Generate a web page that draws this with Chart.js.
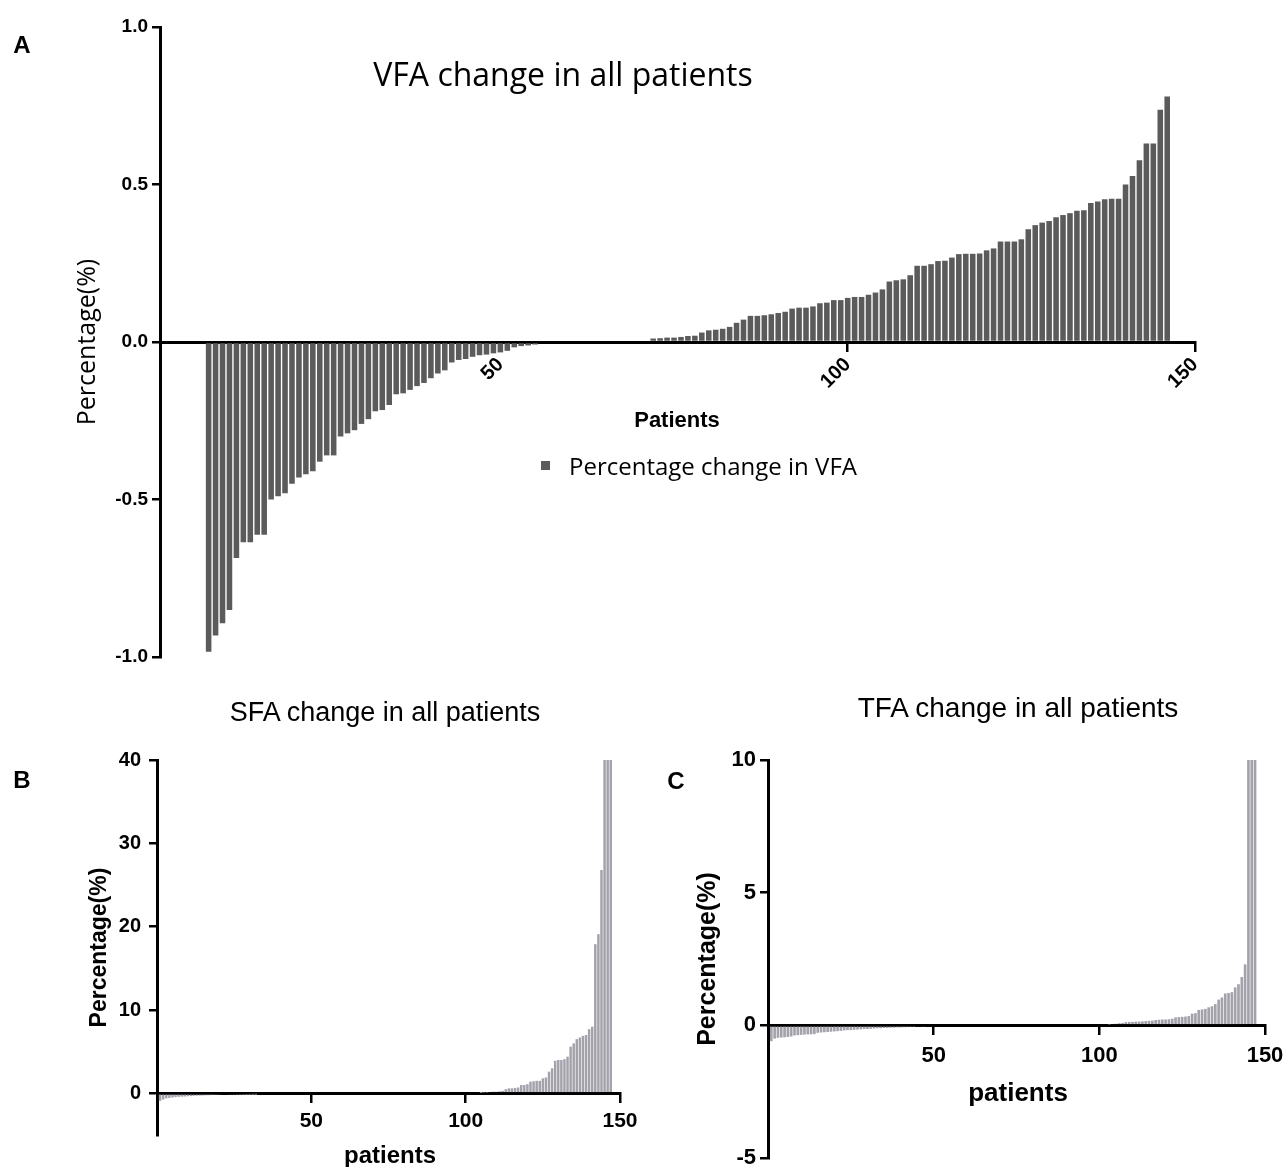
<!DOCTYPE html>
<html>
<head>
<meta charset="utf-8">
<title>VFA / SFA / TFA change in all patients</title>
<script src="https://cdn.jsdelivr.net/npm/chart.js@4.4.1/dist/chart.umd.min.js"></script>
<style>
    body { margin: 0; background: #fff; }
    #figure { position: relative; width: 1286px; height: 1167px; overflow: hidden; background: #fff; }
    canvas { position: absolute; }
    .txt { position: absolute; white-space: nowrap; color: #000; transform: translate(-50%, -50%); line-height: 1; }
    .arial { font-family: 'Liberation Sans', Arial, sans-serif; }
    .myriad { font-family: 'Open Sans', 'Noto Sans', sans-serif; }
    .bold { font-weight: bold; }
    .legend { position: absolute; left: 541px; top: 449px; display: flex; align-items: center; }
    .legend .box { width: 9px; height: 9px; background: #5b5b5b; margin-right: 19px; }
</style>
</head>
<body>
<div id="figure">
    <canvas id="vfaChart" width="1286" height="700" style="left:0;top:0"></canvas>
    <canvas id="sfaChart" width="650" height="467" style="left:0;top:700px"></canvas>
    <canvas id="tfaChart" width="636" height="467" style="left:650px;top:700px"></canvas>

    <div class="txt arial bold" style="left:22px;top:45px;font-size:24px">A</div>
    <div class="txt myriad" style="left:563px;top:74px;font-size:32px">VFA change in all patients</div>
    <div class="txt arial bold" style="left:677px;top:420px;font-size:22px">Patients</div>
    <div class="legend myriad" style="font-size:24px"><span class="box"></span><span>Percentage change in VFA</span></div>

    <div class="txt arial" style="left:385px;top:712px;font-size:27px">SFA change in all patients</div>
    <div class="txt arial bold" style="left:22px;top:780px;font-size:24px">B</div>
    <div class="txt arial bold" style="left:390px;top:1155px;font-size:24px">patients</div>

    <div class="txt arial" style="left:1018px;top:708px;font-size:28px">TFA change in all patients</div>
    <div class="txt arial bold" style="left:676px;top:781px;font-size:24px">C</div>
    <div class="txt arial bold" style="left:1018px;top:1092px;font-size:26px">patients</div>
</div>

<script>
// --- Data (patients sorted by change) ---
const patientTicks = [50, 100, 150];

// VFA: decreases start at patient 8, increases at patient 72
const vfaDecreaseFrom = 8;
const vfaDecrease = [
    -0.983, -0.932, -0.893, -0.851, -0.686, -0.636, -0.636, -0.612, -0.612, -0.50,
    -0.49, -0.48, -0.45, -0.43, -0.42, -0.41, -0.38, -0.36, -0.36, -0.30,
    -0.29, -0.28, -0.26, -0.245, -0.22, -0.216, -0.20, -0.166, -0.163, -0.152,
    -0.14, -0.13, -0.115, -0.10, -0.09, -0.065, -0.057, -0.054, -0.047, -0.042,
    -0.04, -0.036, -0.033, -0.028, -0.017, -0.013, -0.011, -0.008
];
const vfaIncreaseFrom = 72;
const vfaIncrease = [
    0.011, 0.012, 0.014, 0.014, 0.016, 0.019, 0.02, 0.03, 0.037, 0.039,
    0.042, 0.048, 0.061, 0.071, 0.083, 0.083, 0.085, 0.088, 0.092, 0.096,
    0.106, 0.109, 0.109, 0.113, 0.123, 0.125, 0.133, 0.133, 0.14, 0.143,
    0.143, 0.15, 0.157, 0.167, 0.192, 0.196, 0.199, 0.212, 0.242, 0.242,
    0.247, 0.257, 0.258, 0.268, 0.279, 0.28, 0.28, 0.281, 0.291, 0.297,
    0.319, 0.319, 0.319, 0.326, 0.358, 0.371, 0.379, 0.384, 0.396, 0.403,
    0.409, 0.417, 0.418, 0.441, 0.446, 0.453, 0.455, 0.455, 0.50, 0.527,
    0.577, 0.63, 0.63, 0.737, 0.779
];
const vfaTicks = [-1, -0.5, 0, 0.5, 1];

// SFA
const sfaDecreaseFrom = 1;
const sfaDecrease = [
    -0.9, -0.75, -0.6, -0.55, -0.5, -0.45, -0.42, -0.4, -0.38, -0.35,
    -0.33, -0.3, -0.28, -0.27, -0.25, -0.23, -0.22, -0.2, -0.19, -0.18,
    -0.16, -0.15, -0.14, -0.13, -0.12, -0.11, -0.1, -0.09, -0.08, -0.07,
    -0.06, -0.05
];
const sfaIncreaseFrom = 105;
const sfaIncrease = [
    0.05, 0.1, 0.1, 0.15, 0.2, 0.2, 0.25, 0.3,
    0.5, 0.6, 0.6, 0.65, 0.7,
    1.0, 1.0, 1.1,
    1.4, 1.45, 1.5, 1.5,
    1.8, 1.9,
    2.6, 3.0,
    3.9, 4.0, 4.0, 4.1, 4.4,
    5.6, 6.0, 6.5, 6.7, 6.9, 7.0, 7.7, 8.0,
    17.9, 19.1, 26.8, 45, 50, 55
];
const sfaTicks = [0, 10, 20, 30, 40];

// TFA
const tfaDecreaseFrom = 1;
const tfaDecrease = [
    -0.6, -0.5, -0.47, -0.46, -0.45, -0.44, -0.42, -0.38, -0.37, -0.36,
    -0.35, -0.34, -0.34, -0.33, -0.28, -0.27, -0.26, -0.25, -0.24, -0.23,
    -0.22, -0.21, -0.19, -0.18, -0.18, -0.17, -0.16, -0.15, -0.14, -0.14,
    -0.13, -0.12, -0.11, -0.11, -0.1, -0.1, -0.09, -0.09, -0.08, -0.08,
    -0.07, -0.07, -0.06, -0.06, -0.05, -0.05, -0.04
];
const tfaIncreaseFrom = 103;
const tfaIncrease = [
    0.03, 0.05, 0.06, 0.08, 0.09, 0.12, 0.13, 0.13, 0.14, 0.14,
    0.15, 0.16, 0.17, 0.18, 0.2, 0.21, 0.22, 0.22, 0.23, 0.25,
    0.3, 0.31, 0.32, 0.33, 0.35, 0.44, 0.46, 0.58, 0.6, 0.62,
    0.68, 0.72, 0.8, 0.97, 1.05, 1.2, 1.22, 1.25, 1.43, 1.55,
    1.82, 2.3, 12, 12, 13
];
const tfaTicks = [-5, 0, 5, 10];

// --- Helpers ---
Chart.defaults.font.family = "'Liberation Sans', Arial, sans-serif";
Chart.defaults.color = '#000';
Chart.defaults.animation = false;

const toPoints = (values, firstPatient) => values.map((v, i) => ({ x: firstPatient + i, y: v }));

const setTicks = (list) => (scale) => { scale.ticks = list.map(v => ({ value: v })); };

// y axis keeps a fixed width so the plot area lands where the figure has it
const fixWidth = (w) => (scale) => {
    scale.width = w;
    scale.paddingTop = 0;
    scale.paddingBottom = 0;
};

const noSidePadding = (scale) => {
    scale.paddingLeft = 0;
    scale.paddingRight = 0;
};

const axisLines = (tickLength) => ({
    grid: { display: true, offset: false, drawOnChartArea: false, drawTicks: true, tickLength: tickLength, color: '#000', lineWidth: 2.5 },
    border: { display: true, color: '#000', width: 3 }
});

function patientAxis(fontSize, rotation, padding) {
    return {
        type: 'linear',
        position: { y: 0 },
        offset: false,
        min: 0,
        max: 150,
        afterBuildTicks: setTicks(patientTicks),
        afterFit: noSidePadding,
        ...axisLines(8),
        ticks: {
            autoSkip: false,
            minRotation: rotation,
            maxRotation: rotation,
            padding: padding,
            font: { size: fontSize, weight: 'bold' }
        }
    };
}

function renderBars(canvasId, label, points, color, x, y, padding) {
    new Chart(document.getElementById(canvasId), {
        type: 'bar',
        data: {
            datasets: [{
                label: label,
                data: points,
                backgroundColor: color,
                borderWidth: 0,
                barPercentage: 0.8,
                categoryPercentage: 1
            }]
        },
        options: {
            responsive: false,
            layout: { padding: padding },
            plugins: { legend: { display: false }, tooltip: { enabled: false } },
            scales: { x: x, y: y }
        }
    });
}

// --- Panel A: VFA ---
const vfaX = patientAxis(20, 45, 3);
vfaX.min = 1;
renderBars('vfaChart', 'Percentage change in VFA',
    toPoints(vfaDecrease, vfaDecreaseFrom).concat(toPoints(vfaIncrease, vfaIncreaseFrom)),
    '#5b5b5b', vfaX, {
        min: -1,
        max: 1,
        afterBuildTicks: setTicks(vfaTicks),
        afterFit: fixWidth(160),
        ...axisLines(8),
        ticks: { padding: 4, font: { size: 19, weight: 'bold' }, callback: (v) => v.toFixed(1) },
        title: {
            display: true,
            text: 'Percentage(%)',
            font: { family: "'Open Sans', 'Noto Sans', sans-serif", size: 25 },
            padding: { top: 73, bottom: 0 }
        }
    }, { left: 0, right: 91, top: 27, bottom: 43 });

// --- Panel B: SFA ---
renderBars('sfaChart', 'Percentage change in SFA',
    toPoints(sfaDecrease, sfaDecreaseFrom).concat(toPoints(sfaIncrease, sfaIncreaseFrom)),
    '#a3a2ab', patientAxis(21, 0, 7), {
        min: -5,
        max: 40,
        afterBuildTicks: setTicks(sfaTicks),
        afterFit: fixWidth(157),
        ...axisLines(8),
        ticks: { padding: 8, font: { size: 20, weight: 'bold' } },
        title: {
            display: true,
            text: 'Percentage(%)',
            font: { size: 23, weight: 'bold' },
            padding: { top: 86, bottom: 0 }
        }
    }, { left: 0, right: 30, top: 60, bottom: 32 });

// --- Panel C: TFA ---
renderBars('tfaChart', 'Percentage change in TFA',
    toPoints(tfaDecrease, tfaDecreaseFrom).concat(toPoints(tfaIncrease, tfaIncreaseFrom)),
    '#a3a2ab', patientAxis(22, 0, 9), {
        min: -5,
        max: 10,
        afterBuildTicks: setTicks(tfaTicks),
        afterFit: fixWidth(118),
        ...axisLines(8),
        ticks: { padding: 4, font: { size: 22, weight: 'bold' } },
        title: {
            display: true,
            text: 'Percentage(%)',
            font: { size: 25, weight: 'bold' },
            padding: { top: 43, bottom: 0 }
        }
    }, { left: 0, right: 21, top: 60, bottom: 9 });
</script>
</body>
</html>
